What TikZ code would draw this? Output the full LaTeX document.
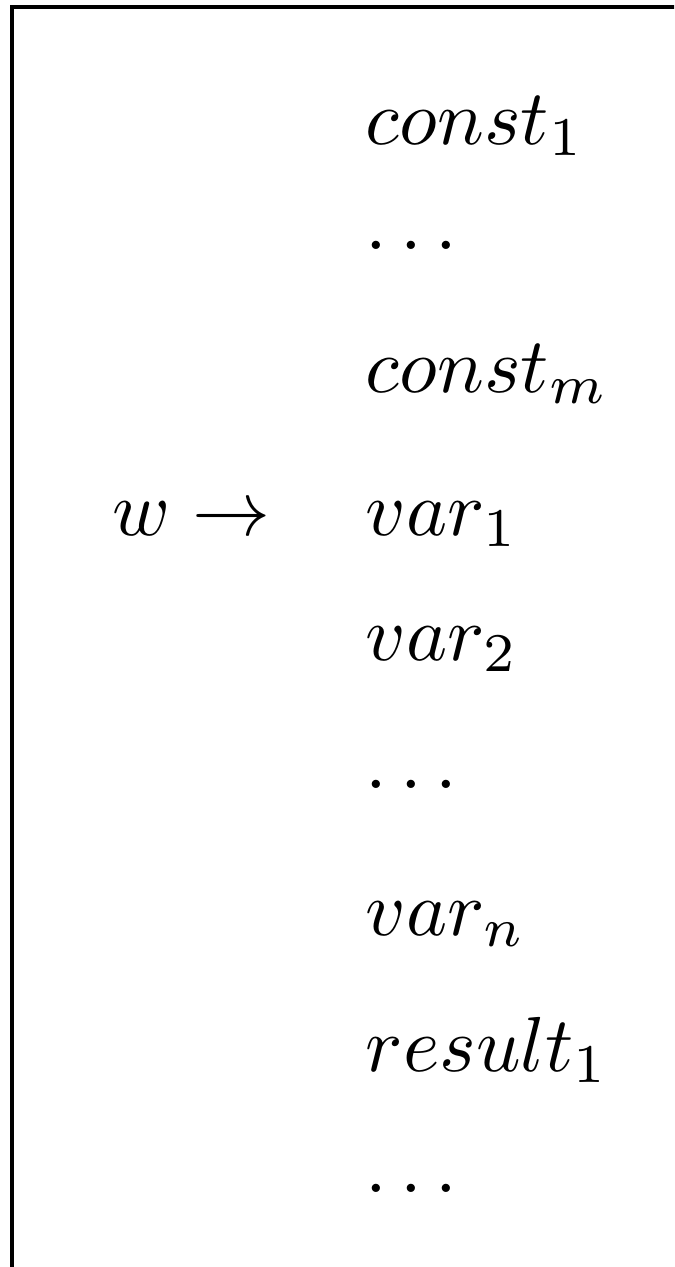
\documentclass[tikz,border=0pt]{standalone}
\begin{document}
\begin{tikzpicture}[x=0.128205pt,y=-0.128205pt,
  lbl/.style={anchor=base west,inner sep=0pt,outer sep=0pt}]
\useasboundingbox (0,0) rectangle (674,1267);
\clip (0,0) rectangle (674,1267);
\draw[line width=0.4pt] (12,1300) -- (12,7) -- (700,7);
\node[lbl] (c1) at (366,144) {$const_1$};
\node[lbl] (d1) at (366,249) {$\dots$};
\node[lbl] (cm) at (366,392) {$const_m$};
\node[lbl] (v1) at (366,535) {$var_1$};
\node[lbl] (w) at (113,535) {$w \rightarrow$};
\node[lbl] (v2) at (366,660) {$var_2$};
\node[lbl] (d2) at (366,788) {$\dots$};
\node[lbl] (vn) at (366,935) {$var_n$};
\node[lbl] (r1) at (366,1071) {$result_1$};
\node[lbl] (d3) at (366,1192) {$\dots$};
\end{tikzpicture}
\end{document}
